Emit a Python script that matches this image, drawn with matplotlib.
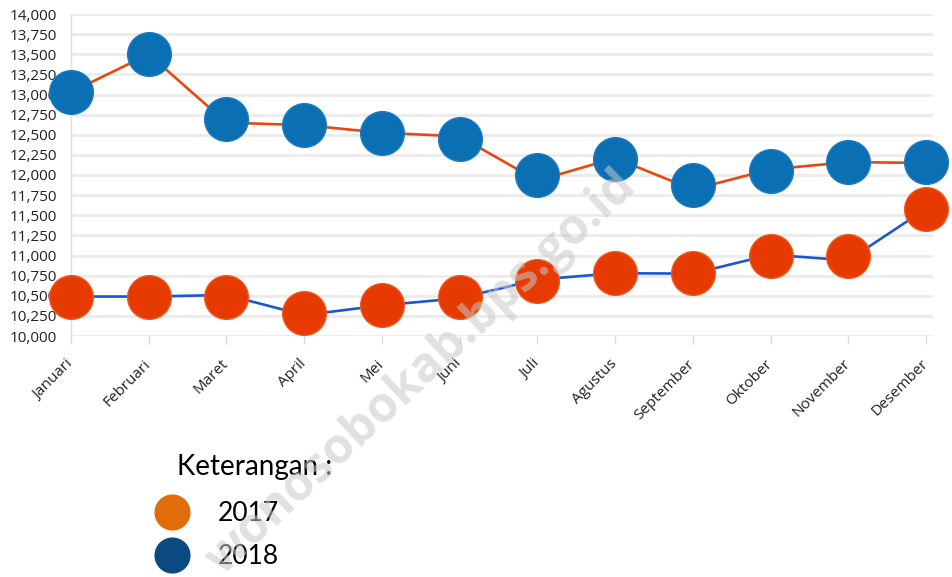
import matplotlib
matplotlib.use("Agg")
import matplotlib.pyplot as plt
from matplotlib.lines import Line2D

months = ["Januari", "Februari", "Maret", "April", "Mei", "Juni", "Juli",
          "Agustus", "September", "Oktober", "November", "Desember"]

# upper series (markers) and its connecting line
markers_2018 = [13030, 13500, 12700, 12620, 12525, 12450, 11995, 12200, 11870, 12055, 12160, 12160]
line_upper = [13030, 13500, 12650, 12620, 12525, 12480, 11930, 12210, 11820, 12070, 12160, 12150]

# lower series (markers) and its connecting line
markers_2017 = [10490, 10490, 10490, 10290, 10386, 10490, 10680, 10780, 10780, 10990, 10990, 11580]
line_lower = [10490, 10490, 10510, 10260, 10380, 10470, 10700, 10780, 10775, 11010, 10940, 11580]

yticks = list(range(10000, 14001, 250))
legend_title = "Keterangan :"
legend_labels = ["2017", "2018"]
watermark = "wonosobokab.bps.go.id"

plt.rcParams['font.family'] = ['Open Sans', 'DejaVu Sans']

W, H = 952, 577
fig = plt.figure(figsize=(W / 100, H / 100), dpi=100)
ax = fig.add_axes([71 / W, (H - 336) / H, (933 - 71) / W, (336 - 14) / H])

x = list(range(len(months)))

ax.plot(x, line_upper, color="#E8470F", lw=1.9, zorder=3, clip_on=False)
ax.plot(x, line_lower, color="#1A56D6", lw=1.9, zorder=3, clip_on=False)
ax.plot(x, markers_2018, ls="none", marker="o", ms=31.5, mfc="#0A6FB3",
        mec="#1C7CC0", mew=1.0, zorder=4, clip_on=False)
ax.plot(x, markers_2017, ls="none", marker="o", ms=31.5, mfc="#E63A00",
        mec="#EF5A1E", mew=1.0, zorder=4, clip_on=False)

ax.set_xlim(0, 11.09)
ax.set_ylim(10000, 14000)
ax.set_yticks(yticks)
ax.set_yticklabels([f"{v:,}" for v in yticks])
ax.set_xticks(x)
ax.set_xticklabels(months, rotation=45, ha="right", va="center",
                   rotation_mode="anchor")

ax.grid(axis="y", color="#EBEBEB", lw=2.0, zorder=0)
ax.set_axisbelow(True)
for s in ["top", "right", "bottom"]:
    ax.spines[s].set_visible(False)
ax.spines["left"].set_color("#E0E0E0")
ax.spines["left"].set_linewidth(1.0)

ax.tick_params(axis="y", length=0, pad=10, labelsize=11, labelcolor="#222222")
ax.tick_params(axis="x", length=6, width=1, color="#D9D9D9", pad=12.5,
               labelsize=11, labelcolor="#222222")

# legend
fig.text(177 / W, 1 - 467 / H, legend_title, fontsize=20, family=["Lato", "DejaVu Sans"],
         ha="left", va="center", color="black")
handles = [Line2D([], [], ls="none", marker="o", ms=25, mfc="#E36C0A", mec="#E36C0A"),
           Line2D([], [], ls="none", marker="o", ms=25, mfc="#0B4A80", mec="#0B4A80")]
leg = fig.legend(handles, legend_labels, loc="upper left",
                 bbox_to_anchor=(154 / W, 1 - 501 / H), frameon=False,
                 prop={"family": ["Lato", "DejaVu Sans"], "size": 19},
                 handlelength=1.35, handletextpad=1.05, labelspacing=0.68,
                 borderpad=0, borderaxespad=0)

# watermark
fig.text(422 / W, 1 - 373 / H, watermark, fontsize=35, fontweight="bold",
         rotation=43, ha="center", va="center", color="#C8C8C8", alpha=0.55,
         zorder=10, family=["Open Sans", "DejaVu Sans"])

fig.savefig("out.png", dpi=100)
